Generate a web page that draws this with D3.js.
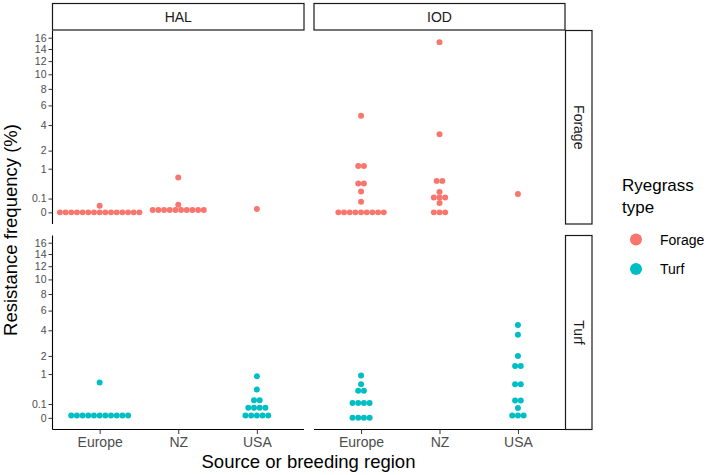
<!DOCTYPE html>
<html>
<head>
<meta charset="utf-8">
<script src="https://cdn.jsdelivr.net/npm/d3@7"></script>
<style>
  body { margin: 0; background: #fff; }
  text { font-family: "Liberation Sans", Arial, sans-serif; }
</style>
</head>
<body>
<svg id="chart" width="709" height="475"></svg>
<script>
const regions = ["Europe", "NZ", "USA"];
const methods = ["HAL", "IOD"];
const types = ["Forage", "Turf"];
const yTicks = [0, 0.1, 1, 2, 4, 6, 8, 10, 12, 14, 16];
const typeColors = ["#F8766D", "#00BFC4"];

// [region, resistance frequency %, number of populations in that bin]
const halForage = [
  ["Europe", 0, 15], ["Europe", 0.023, 1],
  ["NZ", 0.003, 10], ["NZ", 0.03, 1], ["NZ", 0.64, 1],
  ["USA", 0.006, 1]
];
const iodForage = [
  ["Europe", 0, 9], ["Europe", 0.06, 1], ["Europe", 0.23, 1], ["Europe", 0.44, 2], ["Europe", 1.13, 2], ["Europe", 4.9, 1],
  ["NZ", 0, 3], ["NZ", 0.045, 1], ["NZ", 0.117, 3], ["NZ", 0.22, 1], ["NZ", 0.52, 2], ["NZ", 3.2, 1], ["NZ", 15.2, 1],
  ["USA", 0.175, 1]
];
const halTurf = [
  ["Europe", 0.003, 11], ["Europe", 0.65, 1],
  ["USA", 0.003, 5], ["USA", 0.052, 4], ["USA", 0.16, 2], ["USA", 0.42, 1], ["USA", 0.9, 1]
];
const iodTurf = [
  ["Europe", 0, 4], ["Europe", 0.116, 4], ["Europe", 0.38, 2], ["Europe", 0.59, 1], ["Europe", 0.94, 1],
  ["USA", 0.003, 3], ["USA", 0.05, 1], ["USA", 0.156, 2], ["USA", 0.59, 2], ["USA", 1.4, 2], ["USA", 2.0, 1], ["USA", 3.6, 1], ["USA", 4.5, 1]
];

// panels[row][col]
const panels = [[halForage, iodForage], [halTurf, iodTurf]];

const svg = d3.select("#chart");
const colX = [[52.5, 304], [314, 565]];
const rowY = [[30.5, 224], [235.5, 429.5]];

// dotplot style y range: sqrt scale, bin width = range/30, then 5% expansion
const maxS = Math.sqrt(d3.max(panels.flat().flat(), d => d[1]));
const bw = maxS / 30;
const lo = -bw / 2, hi = maxS + bw / 2;
const ex = (hi - lo) * 0.05;
const sLo = lo - ex, sHi = hi + ex;
const sq = v => v < 0 ? -v * v : v * v;

panels.forEach((row, r) => {
  row.forEach((data, c) => {
    const x = d3.scalePoint().domain(regions).range(colX[c]).padding(0.6);
    const y = d3.scalePow().exponent(0.5).domain([sq(sLo), sq(sHi)]).range([rowY[r][1], rowY[r][0]]);
    const dotD = bw * (rowY[r][1] - rowY[r][0]) / (sHi - sLo);
    const g = svg.append("g");

    // y axis only on the left column
    if (c === 0) {
      const ax = g.append("g").attr("transform", `translate(${colX[c][0]},0)`)
        .call(d3.axisLeft(y).tickValues(yTicks).tickSize(4).tickPadding(2).tickFormat(d3.format("")));
      ax.select(".domain").attr("stroke", "#000").attr("stroke-width", 1.1).attr("d", `M0,${rowY[r][0]}V${rowY[r][1]}`);
      ax.selectAll(".tick line").attr("stroke", "#333").attr("stroke-width", 1);
      ax.selectAll(".tick text").attr("fill", "#4D4D4D").style("font-size", "10.5px");
    }
    // x axis only on the bottom row
    if (r === 1) {
      const ax = g.append("g").attr("transform", `translate(0,${rowY[r][1]})`)
        .call(d3.axisBottom(x).tickSize(4.5).tickPadding(3));
      ax.select(".domain").attr("stroke", "#000").attr("stroke-width", 1.1).attr("d", `M${colX[c][0]},0H${colX[c][1]}`);
      ax.selectAll(".tick line").attr("stroke", "#333").attr("stroke-width", 1);
      ax.selectAll(".tick text").attr("fill", "#4D4D4D").style("font-size", "14px");
    }

    // stacked dots, centred on the region
    const dots = [];
    data.forEach(([reg, v, n]) => {
      for (let j = 0; j < n; j++) {
        dots.push({ cx: x(reg) + (j - (n - 1) / 2) * dotD, cy: y(v) });
      }
    });
    g.selectAll("circle").data(dots).enter().append("circle")
      .attr("cx", d => d.cx).attr("cy", d => d.cy)
      .attr("r", dotD / 2 + 0.15).attr("fill", typeColors[r]);
  });
});

// top strips
methods.forEach((m, c) => {
  svg.append("rect").attr("x", colX[c][0]).attr("y", 3.5)
    .attr("width", colX[c][1] - colX[c][0]).attr("height", 26.5)
    .attr("fill", "#fff").attr("stroke", "#1a1a1a").attr("stroke-width", 1.2);
  svg.append("text").attr("x", (colX[c][0] + colX[c][1]) / 2).attr("y", 21.5)
    .attr("text-anchor", "middle").attr("fill", "#1A1A1A").style("font-size", "14px").text(m);
});
// right strips
types.forEach((t, r) => {
  svg.append("rect").attr("x", 565.5).attr("y", rowY[r][0])
    .attr("width", 26.5).attr("height", rowY[r][1] - rowY[r][0])
    .attr("fill", "#fff").attr("stroke", "#1a1a1a").attr("stroke-width", 1.2);
  const cy = (rowY[r][0] + rowY[r][1]) / 2;
  svg.append("text").attr("transform", `translate(573.5,${cy}) rotate(90)`)
    .attr("text-anchor", "middle").attr("fill", "#1A1A1A").style("font-size", "14px").text(t);
});

// axis titles
svg.append("text").attr("transform", "translate(16.5,230) rotate(-90)")
  .attr("text-anchor", "middle").style("font-size", "18.5px").text("Resistance frequency (%)");
svg.append("text").attr("x", 308.5).attr("y", 467.5)
  .attr("text-anchor", "middle").style("font-size", "18.5px").text("Source or breeding region");

// legend
const leg = svg.append("g");
leg.append("text").attr("x", 622).attr("y", 191).style("font-size", "17px").text("Ryegrass");
leg.append("text").attr("x", 622).attr("y", 212.5).style("font-size", "17px").text("type");
const keyY = [239.5, 269];
types.forEach((t, i) => {
  leg.append("circle").attr("cx", 636).attr("cy", keyY[i]).attr("r", 6).attr("fill", typeColors[i]);
  leg.append("text").attr("x", 660).attr("y", keyY[i] + 5).style("font-size", "14px").text(t);
});
</script>
</body>
</html>
